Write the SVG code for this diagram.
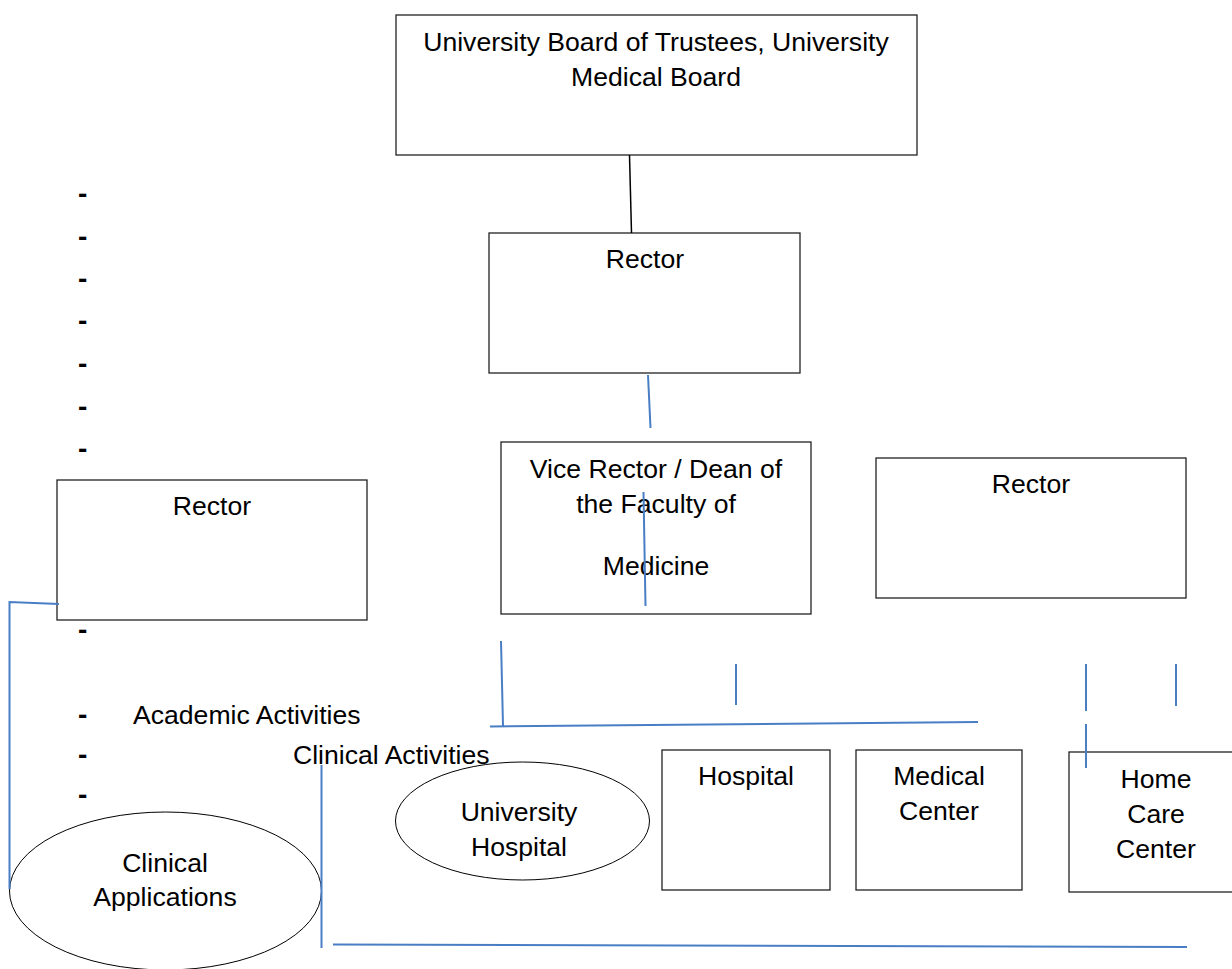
<svg xmlns="http://www.w3.org/2000/svg" width="1232" height="969" viewBox="0 0 1232 969">
<style>
text{font-family:"Liberation Sans",Arial,sans-serif;font-size:26.6px;fill:#000}
.c{text-anchor:middle}
.d{font-weight:bold;font-size:28px}
.box{fill:#fff;stroke:#222;stroke-width:1.3}
.ell{fill:none;stroke:#000;stroke-width:1}
.blue{stroke:#4a7ec4;stroke-width:2;fill:none}
.blk{stroke:#000;stroke-width:1.5;fill:none}
</style>
<rect width="1232" height="969" fill="#fff"/>
<g id="dashes">
<text x="78" y="203" class="d">-</text>
<text x="78" y="246" class="d">-</text>
<text x="78" y="288" class="d">-</text>
<text x="78" y="330" class="d">-</text>
<text x="78" y="373" class="d">-</text>
<text x="78" y="416" class="d">-</text>
<text x="78" y="458" class="d">-</text>
<text x="78" y="639" class="d">-</text>
<text x="78" y="724" class="d">-</text>
<text x="78" y="764" class="d">-</text>
<text x="78" y="804" class="d">-</text>
</g>
<g id="board">
<rect class="box" x="396" y="15" width="521" height="140"/>
<text class="c" x="656" y="51">University Board of Trustees, University</text>
<text class="c" x="656" y="86">Medical Board</text>
</g>
<g id="rector-main">
<rect class="box" x="489" y="233" width="311" height="140"/>
<text class="c" x="645" y="268">Rector</text>
</g>
<g id="vice-rector">
<rect class="box" x="501" y="442" width="310" height="172"/>
<text class="c" x="656" y="478">Vice Rector / Dean of</text>
<text class="c" x="656" y="513">the Faculty of</text>
<text class="c" x="656" y="575">Medicine</text>
</g>
<g id="rector-left">
<rect class="box" x="57" y="480" width="310" height="140"/>
<text class="c" x="212" y="515">Rector</text>
</g>
<g id="rector-right">
<rect class="box" x="876" y="458" width="310" height="140"/>
<text class="c" x="1031" y="493">Rector</text>
</g>
<g id="labels">
<text x="133" y="724">Academic Activities</text>
<text x="293" y="764">Clinical Activities</text>
</g>
<g id="clinical-applications">
<ellipse class="ell" cx="165.5" cy="891" rx="156" ry="79"/>
<text class="c" x="165" y="872">Clinical</text>
<text class="c" x="165" y="906">Applications</text>
</g>
<g id="university-hospital">
<ellipse class="ell" cx="522.5" cy="821" rx="127" ry="59"/>
<text class="c" x="519" y="821">University</text>
<text class="c" x="519" y="856">Hospital</text>
</g>
<g id="hospital">
<rect class="box" x="662" y="750" width="168" height="140"/>
<text class="c" x="746" y="785">Hospital</text>
</g>
<g id="medical-center">
<rect class="box" x="856" y="750" width="166" height="140"/>
<text class="c" x="939" y="785">Medical</text>
<text class="c" x="939" y="820">Center</text>
</g>
<g id="home-care-center">
<rect class="box" x="1069" y="752" width="174" height="140"/>
<text class="c" x="1156" y="788">Home</text>
<text class="c" x="1156" y="823">Care</text>
<text class="c" x="1156" y="858">Center</text>
</g>
<g id="connectors">
<line class="blk" x1="629.5" y1="155" x2="631.5" y2="233"/>
<line class="blue" x1="648" y1="375" x2="650.5" y2="428"/>
<line class="blue" x1="643.5" y1="492" x2="645.5" y2="606"/>
<polyline class="blue" points="59,604 9.5,602 9.5,889"/>
<line class="blue" x1="501" y1="641" x2="503" y2="726"/>
<line class="blue" x1="490" y1="726.5" x2="978" y2="722"/>
<line class="blue" x1="736" y1="664" x2="736" y2="705"/>
<line class="blue" x1="1086" y1="664" x2="1086" y2="711"/>
<line class="blue" x1="1176" y1="664" x2="1176" y2="706"/>
<line class="blue" x1="1086" y1="724" x2="1086" y2="768"/>
<line class="blue" x1="321.5" y1="765" x2="321.5" y2="948"/>
<line class="blue" x1="333" y1="944.5" x2="1187" y2="947"/>
</g>
</svg>
